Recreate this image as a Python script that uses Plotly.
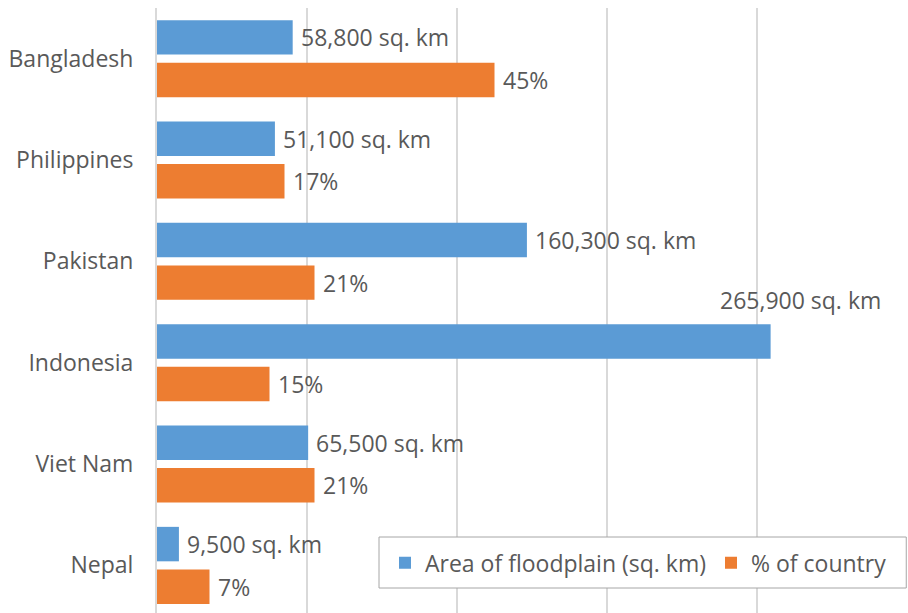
import plotly.graph_objects as go

# Floodplain extent by country
countries = ["Bangladesh", "Philippines", "Pakistan", "Indonesia", "Viet Nam", "Nepal"]
area_sq_km = [58800, 51100, 160300, 265900, 65500, 9500]
pct_of_country = [45, 17, 21, 15, 21, 7]

BLUE = "#5B9BD5"
ORANGE = "#ED7D31"
TEXT = "#595959"
GRID = "#D9D9D9"
FONT = "Open Sans"
FS = 23

AREA_MAX = 325000   # range of the (hidden) area axis
PCT_MAX = 100       # range of the percentage axis

BAR_W = 0.34
GAP = 0.08

fig = go.Figure()

fig.add_trace(go.Bar(
    name="Area of floodplain (sq. km)",
    y=countries, x=area_sq_km, orientation="h",
    xaxis="x2", yaxis="y",
    width=BAR_W, offset=-(BAR_W + GAP / 2),
    marker=dict(color=BLUE, line=dict(width=0)),
))
fig.add_trace(go.Bar(
    name="% of country",
    y=countries, x=pct_of_country, orientation="h",
    xaxis="x", yaxis="y",
    width=BAR_W, offset=GAP / 2,
    marker=dict(color=ORANGE, line=dict(width=0)),
))

# pixel offset from category centre to each bar's centre
plot_h_px = 605
cat_px = plot_h_px / (5.47 + 0.5)
bar_shift = (BAR_W + GAP) / 2 * cat_px

label_font = dict(family=FONT, size=FS, color=TEXT)
annotations = []
for c, v in zip(countries, area_sq_km):
    label = f"{v:,} sq. km"
    if v > 0.7 * AREA_MAX:
        # no room to the right: sit the label above the bar end
        annotations.append(dict(x=v, y=c, xref="x2", yref="y", text=label,
                                showarrow=False, xanchor="center", xshift=30,
                                yshift=bar_shift + 41, font=label_font))
    else:
        annotations.append(dict(x=v, y=c, xref="x2", yref="y", text=label,
                                showarrow=False, xanchor="left", xshift=6,
                                yshift=bar_shift, font=label_font))
for c, v in zip(countries, pct_of_country):
    annotations.append(dict(x=v, y=c, xref="x", yref="y", text=f"{v}%",
                            showarrow=False, xanchor="left", xshift=6,
                            yshift=-bar_shift, font=label_font))

# legend frame
shapes = [dict(type="rect", xref="paper", yref="paper",
               x0=0.296, x1=0.999, y0=0.0413, y1=0.1256,
               fillcolor="white", line=dict(color="#A6A6A6", width=1),
               layer="above")]

fig.update_layout(
    width=908, height=613,
    margin=dict(l=157, r=1, t=8, b=0),
    paper_bgcolor="white", plot_bgcolor="white",
    barmode="overlay",
    font=dict(family=FONT, size=FS, color=TEXT),
    xaxis=dict(range=[0, PCT_MAX], dtick=20, showticklabels=False,
               showgrid=True, gridcolor=GRID, gridwidth=2,
               zeroline=False, showline=False, fixedrange=True),
    xaxis2=dict(range=[0, AREA_MAX], overlaying="x", side="top",
                visible=False, showgrid=False),
    yaxis=dict(type="category", range=[5.47, -0.5],
               categoryorder="array", categoryarray=countries,
               showgrid=False, zeroline=False,
               showline=True, linecolor=GRID, linewidth=2,
               ticks="", ticklabelstandoff=17,
               tickfont=dict(family=FONT, size=FS, color=TEXT)),
    legend=dict(orientation="h", x=0.304, xanchor="left", y=0.0476, yanchor="bottom",
                bgcolor="rgba(0,0,0,0)", borderwidth=0,
                font=dict(family=FONT, size=FS, color=TEXT),
                traceorder="normal"),
    shapes=shapes,
    annotations=annotations,
    showlegend=True,
)

fig.write_html("out.html")
